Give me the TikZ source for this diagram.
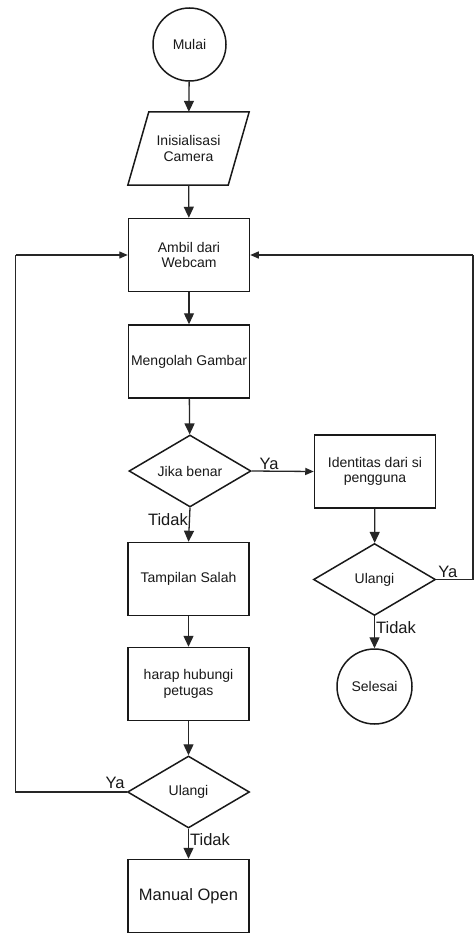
\documentclass[tikz,border=0pt]{standalone}
\usepackage{fontspec}
\setmainfont{Liberation Sans}
\usetikzlibrary{shapes.geometric,arrows.meta}
\begin{document}
\begin{tikzpicture}[x=1pt,y=-1pt,
  every node/.style={font=\fontsize{14}{15.5}\selectfont, text=black!90},
  base/.style={draw=black!90, line width=1.5pt, align=center, inner sep=0pt},
  proc/.style={base, rectangle, minimum width=121pt, minimum height=73pt},
  term/.style={base, circle, minimum size=73pt},
  decis/.style={base, diamond, shape aspect=1.7, minimum width=122pt, minimum height=72pt},
  lbl/.style={font=\fontsize{16.5}{18}\selectfont, inner sep=1pt},
  conn/.style={draw=black!85, line width=1.3pt},
  darr/.style={conn, -{Triangle[length=11pt,width=10pt]}},
  sarr/.style={conn, -{Triangle[length=8.5pt,width=7pt]}}]
\useasboundingbox[fill=white] (0,0) rectangle (475,934);

\node[term] (mulai) at (189.5,44.5) {Mulai};
\node[inner sep=0pt, minimum width=121pt, minimum height=73pt, align=center] (init) at (188.5,148.5) {Inisialisasi\\Camera};
\draw[base] ([xshift=21pt]init.north west) -- (init.north east) -- ([xshift=-21pt]init.south east) -- (init.south west) -- cycle;
\node[proc] (ambil) at (189,255) {Ambil dari\\Webcam};
\node[proc] (olah) at (189,361.5) {Mengolah Gambar};
\node[decis] (jika) at (190,471) {Jika benar};
\node[proc] (ident) at (375,471.5) {Identitas dari si\\pengguna};
\node[decis] (ul2) at (374.5,579.5) {Ulangi};
\node[term, minimum size=75pt] (selesai) at (374.5,686.5) {Selesai};
\node[proc] (tampil) at (188.5,579) {Tampilan Salah};
\node[proc] (harap) at (188.5,684) {harap hubungi\\petugas};
\node[decis] (ul1) at (188.5,792) {Ulangi};
\node[proc, font=\fontsize{16.5}{18}\selectfont] (manual) at (188.5,896) {Manual Open};

\coordinate (lc1) at (15.5,792);
\coordinate (lc2) at (15.5,255);
\coordinate (rc1) at (473,579.5);
\coordinate (rc2) at (473,255);

\draw[darr] (mulai) -- (init);
\draw[darr] (init) -- (ambil);
\draw[darr] (ambil) -- (olah);
\draw[darr] (olah) -- (jika);
\draw[sarr] (jika.east) -- node[lbl, pos=0.1, anchor=south west] {Ya} (ident.west);
\draw[darr] (jika.south) -- node[lbl, pos=0.35, anchor=east] {Tidak} (tampil.north);
\draw[darr] (tampil) -- (harap);
\draw[darr] (harap) -- (ul1);
\draw[darr] (ul1.south) -- node[lbl, pos=0.35, anchor=west] {Tidak} (manual.north);
\draw[conn] (ul1.west) -- (lc1) -- (lc2);
\draw[sarr] (lc2) -- (ambil.west);
\node[lbl, anchor=south east] at ([xshift=-1pt,yshift=2pt]ul1.west) {Ya};
\draw[darr] (ident) -- (ul2);
\draw[darr] (ul2.south) -- node[lbl, pos=0.35, anchor=west] {Tidak} (selesai.north);
\draw[conn] (ul2.east) -- (rc1) -- (rc2);
\draw[sarr] (rc2) -- (ambil.east);
\node[lbl, anchor=south west] at ([xshift=1pt,yshift=1pt]ul2.east) {Ya};
\end{tikzpicture}
\end{document}
